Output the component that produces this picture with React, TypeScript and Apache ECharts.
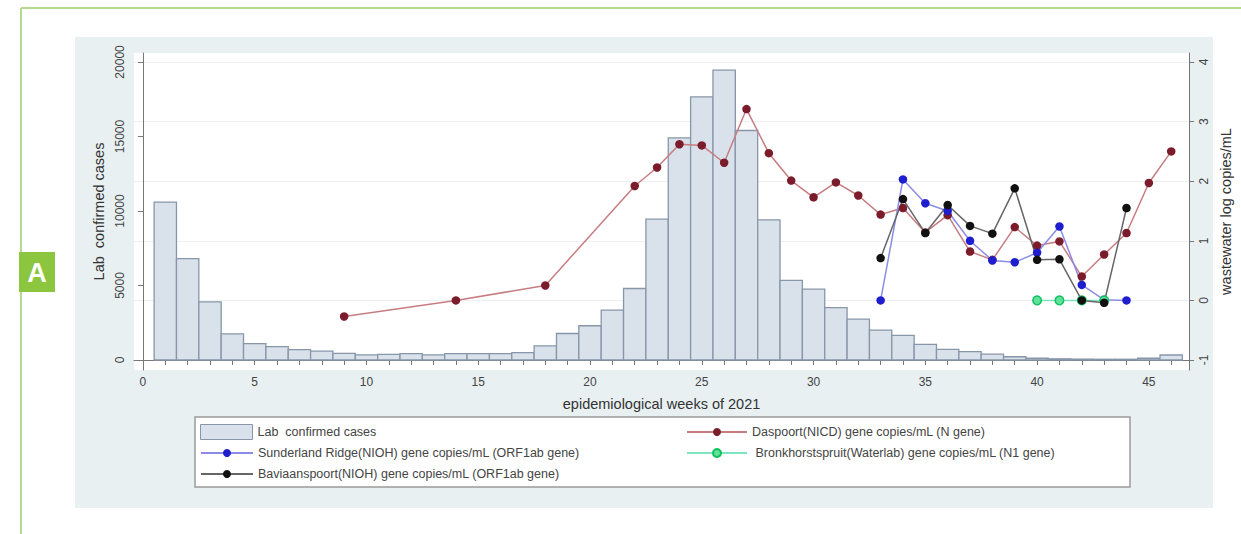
import React, { useEffect, useRef } from "react";
import * as echarts from "echarts";

const weeks = [1,2,3,4,5,6,7,8,9,10,11,12,13,14,15,16,17,18,19,20,21,22,23,24,25,26,27,28,29,30,31,32,33,34,35,36,37,38,39,40,41,42,43,44,45,46];
const labCases = [10600,6800,3900,1750,1100,900,700,600,450,350,380,430,340,430,430,430,500,950,1780,2300,3350,4800,9450,14900,17650,19450,15400,9400,5350,4750,3520,2750,2000,1650,1050,720,560,400,220,120,80,60,50,50,120,335];

const daspoortWeeks = [9,14,18,22,23,24,25,26,27,28,29,30,31,32,33,34,35,36,37,38,39,40,41,42,43,44,45,46];
const daspoort = [-0.27,0.0,0.25,1.92,2.23,2.62,2.60,2.31,3.21,2.47,2.01,1.73,1.98,1.76,1.44,1.55,1.14,1.43,0.82,0.68,1.23,0.92,0.99,0.40,0.77,1.13,1.97,2.50];

const sunderlandWeeks = [33,34,35,36,37,38,39,40,41,42,43,44];
const sunderland = [0.0,2.03,1.63,1.50,1.00,0.67,0.64,0.80,1.24,0.26,0.01,0.0];

const bronkWeeks = [40,41,42,43];
const bronk = [0,0,0,0];

const baviWeeks = [33,34,35,36,37,38,39,40,41,42,43,44];
const bavi = [0.71,1.70,1.13,1.60,1.25,1.12,1.88,0.68,0.69,0.0,-0.04,1.55];

const xTickValues = [0,1,2,3,4,5,6,7,8,9,10,11,12,13,14,15,16,17,18,19,20,21,22,23,24,25,26,27,28,29,30,31,32,33,34,35,36,37,38,39,40,41,42,43,44,45,46];
const xLabelValues = [0,5,10,15,20,25,30,35,40,45];
const leftTickValues = [0,5000,10000,15000,20000];
const rightTickValues = [-1,0,1,2,3,4];

const NAME_LAB = "Lab  confirmed cases";
const NAME_DAS = "Daspoort(NICD) gene copies/mL (N gene)";
const NAME_SUN = "Sunderland Ridge(NIOH) gene copies/mL (ORF1ab gene)";
const NAME_BRO = " Bronkhorstspruit(Waterlab) gene copies/mL (N1 gene)";
const NAME_BAV = "Baviaanspoort(NIOH) gene copies/mL (ORF1ab gene)";

const FONT = "'Liberation Sans', Arial, sans-serif";
const BAR_FILL = "#d9e1eb";
const BAR_STROKE = "#8896aa";

const pairs = (xs: number[], ys: number[]) => xs.map((x, i) => [x, ys[i]]);

export default function App() {
  const ref = useRef<HTMLDivElement>(null);
  useEffect(() => {
    if (!ref.current) return;
    const chart = echarts.init(ref.current, undefined, { renderer: "svg" });
    const legendText = { color: "#444", fontSize: 12.5, fontFamily: FONT, lineHeight: 14 };
    const mkLegend = (name: string, left: number, top: number, w: number, h: number, extra: any = {}) => ({
      orient: "vertical",
      left,
      top,
      padding: 0,
      itemWidth: w,
      itemHeight: h,
      selectedMode: false,
      textStyle: legendText,
      data: [{ name, ...extra }],
    });
    const lineSeries = (name: string, xs: number[], ys: number[], line: string, marker: string, extra: any = {}) => ({
      name,
      type: "line",
      xAxisIndex: 0,
      yAxisIndex: 1,
      data: pairs(xs, ys),
      symbol: "circle",
      symbolSize: 8.5,
      lineStyle: { color: line, width: 1.5 },
      itemStyle: { color: marker, ...extra },
      z: 3,
    });
    const titleStyle = { fontSize: 14.5, color: "#333", fontFamily: FONT };
    chart.setOption({
      animation: false,
      backgroundColor: "#ffffff",
      textStyle: { fontFamily: FONT },
      graphic: [
        { type: "rect", z: -20, shape: { x: 75, y: 37, width: 1138, height: 471 }, style: { fill: "#e8f0f2" } },
        { type: "line", z: -5, shape: { x1: 21, y1: 8, x2: 1241, y2: 8 }, style: { stroke: "#b3d88f", lineWidth: 2 } },
        { type: "line", z: -5, shape: { x1: 21, y1: 8, x2: 21, y2: 534 }, style: { stroke: "#b3d88f", lineWidth: 2 } },
        { type: "rect", z: 1, shape: { x: 19, y: 252, width: 36, height: 40 }, style: { fill: "#8cc63f" } },
        { type: "text", z: 2, x: 37, y: 273, style: { text: "A", fill: "#ffffff", font: "bold 27px " + FONT, textAlign: "center", textVerticalAlign: "middle" } },
        { type: "rect", z: 1, shape: { x: 195, y: 417, width: 935, height: 70 }, style: { fill: "#ffffff", stroke: "#9a9a9a", lineWidth: 1.5 } },
      ],
      grid: { left: 134, right: 48, top: 53, bottom: 164, show: true, backgroundColor: "#ffffff", borderWidth: 0 },
      legend: [
        mkLegend(NAME_LAB, 200, 424, 52, 15, { icon: "rect", itemStyle: { color: BAR_FILL, borderColor: BAR_STROKE, borderWidth: 1 } }),
        mkLegend(NAME_SUN, 200, 446, 52, 10),
        mkLegend(NAME_BAV, 200, 467, 52, 10),
        mkLegend(NAME_DAS, 686, 425, 60, 10),
        mkLegend(NAME_BRO, 686, 446, 60, 10),
      ],
      xAxis: {
        type: "value",
        min: -0.4,
        max: 46.8,
        name: "epidemiological weeks of 2021",
        nameLocation: "middle",
        nameGap: 26,
        nameTextStyle: titleStyle,
        axisLine: { show: true, lineStyle: { color: "#777", width: 1 } },
        axisTick: { show: true, length: 5, customValues: xTickValues, lineStyle: { color: "#777" } },
        axisLabel: { customValues: xLabelValues, margin: 6, fontSize: 12, color: "#444", fontFamily: FONT },
        splitLine: { show: false },
      },
      yAxis: [
        {
          type: "value",
          position: "left",
          min: -670,
          max: 20600,
          name: NAME_LAB,
          nameLocation: "middle",
          nameGap: 25,
          nameTextStyle: titleStyle,
          axisLine: { show: true, lineStyle: { color: "#777", width: 1 } },
          axisTick: { show: true, length: 5, customValues: leftTickValues, lineStyle: { color: "#777" } },
          axisLabel: { customValues: leftTickValues, rotate: 90, margin: 8, fontSize: 12, color: "#444", fontFamily: FONT, formatter: (v: number) => String(v) },
          splitLine: { show: false },
        },
        {
          type: "value",
          position: "right",
          min: -1.168,
          max: 4.151,
          name: "wastewater log copies/mL",
          nameLocation: "middle",
          nameGap: 26,
          nameTextStyle: titleStyle,
          axisLine: { show: true, lineStyle: { color: "#777", width: 1 } },
          axisTick: { show: true, length: 5, customValues: rightTickValues, lineStyle: { color: "#777" } },
          axisLabel: { customValues: rightTickValues, rotate: 90, margin: 9, fontSize: 12, color: "#444", fontFamily: FONT },
          splitLine: { show: true, lineStyle: { color: "#eef1f4", width: 1 } },
        },
      ],
      series: [
        {
          name: NAME_LAB,
          type: "custom",
          xAxisIndex: 0,
          yAxisIndex: 0,
          data: pairs(weeks, labCases),
          encode: { x: 0, y: 1 },
          itemStyle: { color: BAR_FILL, borderColor: BAR_STROKE, borderWidth: 1.2 },
          z: 2,
          renderItem: (params: any, api: any) => {
            const x = api.value(0);
            const v = api.value(1);
            const p0 = api.coord([x - 0.5, v]);
            const p1 = api.coord([x + 0.5, 0]);
            return {
              type: "rect",
              shape: { x: p0[0], y: p0[1], width: p1[0] - p0[0], height: p1[1] - p0[1] },
              style: { fill: BAR_FILL, stroke: BAR_STROKE, lineWidth: 1.3 },
            };
          },
        },
        lineSeries(NAME_DAS, daspoortWeeks, daspoort, "#c77d80", "#7a1c2c"),
        lineSeries(NAME_SUN, sunderlandWeeks, sunderland, "#8c8ce8", "#1e1ecf"),
        lineSeries(NAME_BRO, bronkWeeks, bronk, "#7ee6bf", "#5fe39a", { borderColor: "#12c060", borderWidth: 1.5 }),
        lineSeries(NAME_BAV, baviWeeks, bavi, "#666666", "#111111"),
      ],
    });
    return () => chart.dispose();
  }, []);
  return <div ref={ref} style={{ position: "fixed", left: 0, top: 0, width: 1241, height: 534 }} />;
}
